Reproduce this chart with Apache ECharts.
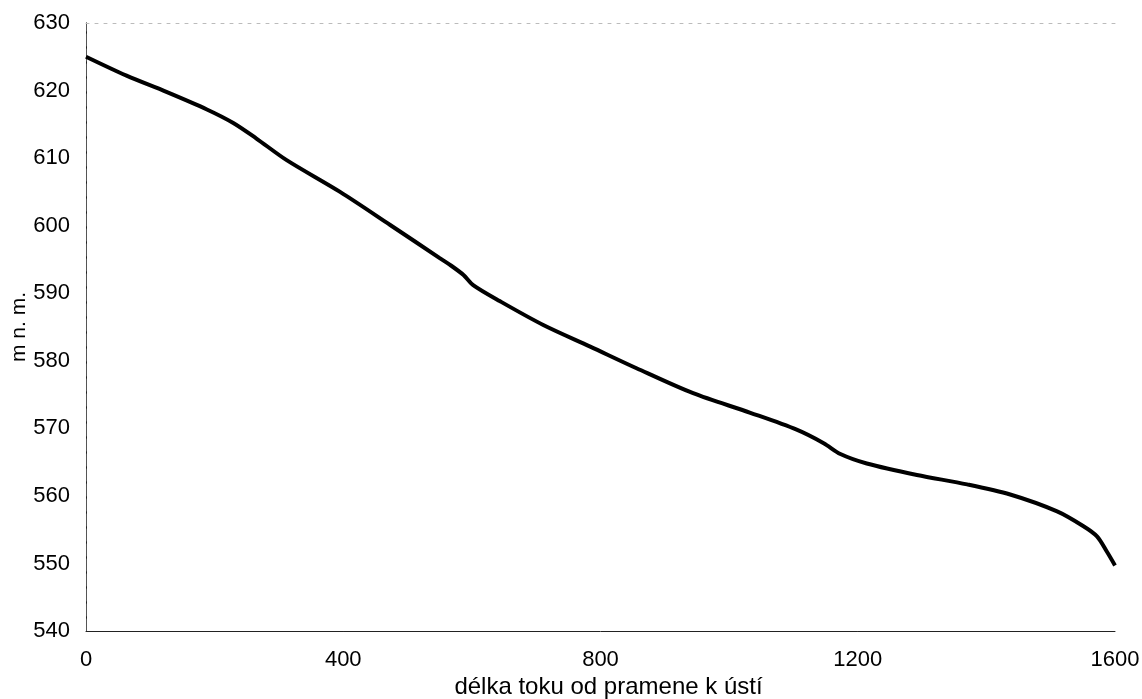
<!DOCTYPE html>
<html>
<head>
<meta charset="utf-8">
<script src="https://cdn.jsdelivr.net/npm/echarts@6/dist/echarts.min.js"></script>
<style>html,body{margin:0;padding:0;background:#fff}#c{width:1142px;height:699px}</style>
</head>
<body>
<div id="c"></div>
<script>
const distance = [0, 63, 125, 188, 229, 265, 312, 395, 473, 550, 566, 587, 602, 644, 711, 784, 856, 944, 1033, 1105, 1147, 1173, 1214, 1292, 1370, 1437, 1510, 1551, 1572, 1587, 1600];
const elevation = [625.0, 622.2, 619.8, 617.2, 615.2, 612.9, 609.7, 605.0, 600.1, 595.2, 594.2, 592.7, 591.2, 588.8, 585.3, 582.1, 578.9, 575.2, 572.3, 569.8, 567.8, 566.2, 564.8, 563.1, 561.7, 560.2, 557.7, 555.5, 554.0, 551.8, 549.7];
const xTitle = 'délka toku od pramene k ústí';
const yTitle = 'm n. m.';

const font = '"Liberation Sans", Arial, sans-serif';
const chart = echarts.init(document.getElementById('c'));
chart.setOption({
  animation: false,
  backgroundColor: '#fff',
  grid: {left: 86, right: 27, top: 23, bottom: 68, containLabel: false, outerBoundsMode: 'none'},
  xAxis: [{
    type: 'value', min: 0, max: 1600, interval: 400,
    name: xTitle, nameLocation: 'middle', nameGap: 44, nameMoveOverlap: false,
    nameTextStyle: {fontFamily: font, fontSize: 24, color: '#000', padding: [0, 0, 0, 16]},
    axisLine: {lineStyle: {color: '#222', width: 1}},
    axisTick: {show: false},
    splitLine: {show: false},
    axisLabel: {fontFamily: font, fontSize: 22, color: '#000', margin: 18, formatter: v => String(v)}
  }, {
    type: 'value', min: 0, max: 1600, position: 'top',
    axisLine: {show: true, lineStyle: {color: '#bbb', width: 1, type: [3, 6]}},
    axisTick: {show: false}, axisLabel: {show: false}, splitLine: {show: false}
  }],
  yAxis: [{
    type: 'value', min: 540, max: 630, interval: 10,
    name: yTitle, nameLocation: 'middle', nameGap: 56, nameMoveOverlap: false,
    nameTextStyle: {fontFamily: font, fontSize: 21, color: '#000'},
    axisLine: {lineStyle: {color: '#222', width: 1}},
    axisTick: {show: false},
    splitLine: {show: false},
    axisLabel: {fontFamily: font, fontSize: 22, color: '#000', margin: 16}
  }, {
    type: 'value', min: 540, max: 630, position: 'right',
    axisLine: {show: true, lineStyle: {color: '#555', width: 1, type: [12, 3]}},
    axisTick: {show: false}, axisLabel: {show: false}, splitLine: {show: false}
  }],
  series: [{
    type: 'line',
    data: distance.map((d, i) => [d, elevation[i]]),
    showSymbol: false,
    smooth: 0.3,
    lineStyle: {color: '#000', width: 4}
  }]
});
</script>
</body>
</html>
